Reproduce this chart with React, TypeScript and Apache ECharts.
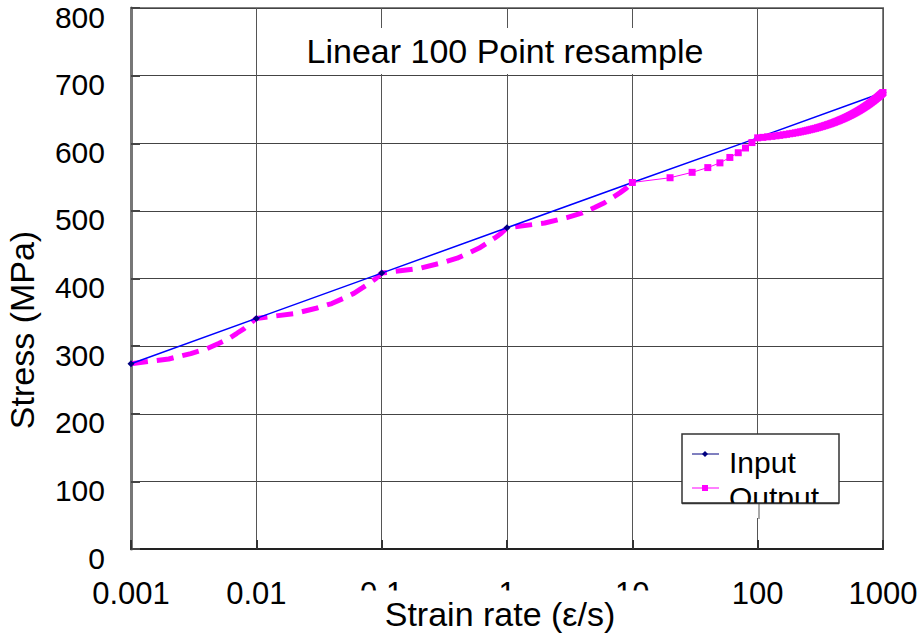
import React, { useEffect, useRef } from "react";
import * as echarts from "echarts";

const xTickLabels = ["0.001", "0.01", "0.1", "1", "10", "100", "1000"];
const yTickLabels = ["0", "100", "200", "300", "400", "500", "600", "700", "800"];

const inputX = [0.001, 0.01, 0.1, 1, 10, 100, 1000];
const inputY = [274, 341, 408, 475, 542, 608, 675];

// Output, lower decades (drawn dashed, thick)
const outLowX = [
  0.001, 0.002, 0.003, 0.004, 0.005, 0.006, 0.007, 0.008, 0.009,
  0.01, 0.02, 0.03, 0.04, 0.05, 0.06, 0.07, 0.08, 0.09,
  0.1, 0.2, 0.3, 0.4, 0.5, 0.6, 0.7, 0.8, 0.9,
  1, 2, 3, 4, 5, 6, 7, 8, 9, 10,
];
const outLowY = [
  274, 281, 289, 296, 304, 311, 319, 326, 334,
  341, 348, 356, 363, 371, 378, 386, 393, 400,
  408, 415, 423, 430, 438, 445, 453, 460, 467,
  475, 482, 490, 497, 505, 512, 520, 527, 534, 542,
];

// Output, resampled points 10..1000 (square markers)
const outHighX = [
  10, 20, 30, 40, 50, 60, 70, 80, 90, 100,
  110, 120, 130, 140, 150, 160, 170, 180, 190, 200,
  210, 220, 230, 240, 250, 260, 270, 280, 290, 300,
  310, 320, 330, 340, 350, 360, 370, 380, 390, 400,
  410, 420, 430, 440, 450, 460, 470, 480, 490, 500,
  510, 520, 530, 540, 550, 560, 570, 580, 590, 600,
  610, 620, 630, 640, 650, 660, 670, 680, 690, 700,
  710, 720, 730, 740, 750, 760, 770, 780, 790, 800,
  810, 820, 830, 840, 850, 860, 870, 880, 890, 900,
  910, 920, 930, 940, 950, 960, 970, 980, 990, 1000,
];
const outHighY = [
  542, 549, 557, 564, 571, 579, 586, 593, 601, 608,
  608.7, 609.5, 610.2, 611.0, 611.7, 612.5, 613.2, 614.0, 614.7, 615.4,
  616.2, 616.9, 617.7, 618.4, 619.2, 619.9, 620.7, 621.4, 622.1, 622.9,
  623.6, 624.4, 625.1, 625.9, 626.6, 627.4, 628.1, 628.8, 629.6, 630.3,
  631.1, 631.8, 632.6, 633.3, 634.1, 634.8, 635.5, 636.3, 637.0, 637.8,
  638.5, 639.3, 640.0, 640.8, 641.5, 642.2, 643.0, 643.7, 644.5, 645.2,
  646.0, 646.7, 647.5, 648.2, 648.9, 649.7, 650.4, 651.2, 651.9, 652.7,
  653.4, 654.2, 654.9, 655.6, 656.4, 657.1, 657.9, 658.6, 659.4, 660.1,
  660.9, 661.6, 662.3, 663.1, 663.8, 664.6, 665.3, 666.1, 666.8, 667.6,
  668.3, 669.0, 669.8, 670.5, 671.3, 672.0, 672.8, 673.5, 674.3, 675.0,
];

const titleText = "Linear 100 Point resample";
const xAxisTitle = "Strain rate (\u03b5/s)";
const yAxisTitle = "Stress (MPa)";
const legendNames = ["Input", "Output"];

const FONT = "'Liberation Sans', Arial, Helvetica, sans-serif";

export default function App() {
  const ref = useRef<HTMLDivElement | null>(null);

  useEffect(() => {
    if (!ref.current) return;
    const chart = echarts.init(ref.current, null, { renderer: "svg" });
    const zip = (xs: number[], ys: number[]) => xs.map((x, i) => [x, ys[i]]);

    const option: any = {
      animation: false,
      backgroundColor: "#ffffff",
      grid: {
        left: 131,
        right: 38,
        top: 8,
        bottom: 87,
        containLabel: false,
        outerBoundsMode: "none",
        show: true,
        borderColor: "#808080",
        borderWidth: 2,
        backgroundColor: "transparent",
      },
      xAxis: {
        type: "log",
        logBase: 10,
        min: 0.001,
        max: 1000,
        axisLine: { show: true, lineStyle: { color: "#222", width: 2 } },
        axisTick: { show: true, inside: true, length: 9, lineStyle: { color: "#333", width: 2 } },
        minorTick: { show: false },
        splitLine: { show: true, lineStyle: { color: "#555", width: 1 } },
        axisLabel: {
          margin: 29,
          fontSize: 31,
          fontFamily: FONT,
          color: "#000",
          formatter: (v: number) => {
            const i = Math.round(Math.log10(v)) + 3;
            return xTickLabels[i] ?? "";
          },
        },
      },
      yAxis: {
        type: "value",
        min: 0,
        max: 800,
        interval: 100,
        axisLine: { show: true, lineStyle: { color: "#777", width: 3 } },
        axisTick: { show: true, inside: true, length: 9, lineStyle: { color: "#444", width: 2 } },
        splitLine: { show: true, lineStyle: { color: "#444", width: 1 } },
        axisLabel: {
          margin: 26,
          fontSize: 30,
          fontFamily: FONT,
          color: "#000",
          verticalAlign: "top",
          lineHeight: 18,
          formatter: (v: number) => yTickLabels[Math.round(v / 100)] ?? "",
        },
      },
      series: [
        {
          name: "Output",
          type: "line",
          data: zip(outLowX, outLowY),
          showSymbol: false,
          symbol: "none",
          lineStyle: { color: "#ff00ff", width: 5, type: [17, 9] },
          z: 2,
        },
        {
          name: "Input",
          type: "line",
          data: zip(inputX, inputY),
          symbol: "diamond",
          symbolSize: 7,
          itemStyle: { color: "#000080" },
          lineStyle: { color: "#0000ff", width: 1.5 },
          z: 3,
        },
        {
          name: "Output",
          type: "line",
          data: zip(outHighX, outHighY),
          symbol: "rect",
          symbolSize: 7,
          itemStyle: { color: "#ff00ff" },
          lineStyle: { color: "#ff00ff", width: 1 },
          z: 4,
        },
      ],
      graphic: [
        // title with white box
        {
          type: "text",
          x: 505,
          y: 51,
          z: 100,
          style: {
            text: titleText,
            font: `34px ${FONT}`,
            fill: "#000",
            textAlign: "center",
            textVerticalAlign: "middle",
            backgroundColor: "#ffffff",
            padding: [6, 10],
          },
        },
        // x axis title with white box (covers part of tick labels, as in the original)
        {
          type: "text",
          x: 500,
          y: 614,
          z: 100,
          style: {
            text: xAxisTitle,
            font: `34px ${FONT}`,
            fill: "#000",
            textAlign: "center",
            textVerticalAlign: "middle",
            backgroundColor: "#ffffff",
            padding: [3, 34, 10, 34],
          },
        },
        // y axis title
        {
          type: "text",
          x: 22,
          y: 330,
          rotation: Math.PI / 2,
          z: 100,
          style: {
            text: yAxisTitle,
            font: `34px ${FONT}`,
            fill: "#000",
            textAlign: "center",
            textVerticalAlign: "middle",
          },
        },
        // legend box
        {
          type: "rect",
          z: 100,
          shape: { x: 682, y: 434, width: 157, height: 69 },
          style: { fill: "#ffffff", stroke: "#333", lineWidth: 1.5 },
        },
        {
          type: "line",
          z: 101,
          shape: { x1: 692, y1: 454, x2: 719, y2: 454 },
          style: { stroke: "#000080", lineWidth: 1 },
        },
        {
          type: "polygon",
          z: 102,
          shape: { points: [[705, 451], [708, 454], [705, 457], [702, 454]] },
          style: { fill: "#000080" },
        },
        {
          type: "text",
          x: 729,
          y: 462,
          z: 101,
          style: {
            text: legendNames[0],
            font: `30px ${FONT}`,
            fill: "#000",
            textAlign: "left",
            textVerticalAlign: "middle",
          },
        },
        {
          type: "line",
          z: 101,
          shape: { x1: 692, y1: 488, x2: 719, y2: 488 },
          style: { stroke: "#ff00ff", lineWidth: 1 },
        },
        {
          type: "rect",
          z: 102,
          shape: { x: 702, y: 485, width: 6, height: 6 },
          style: { fill: "#ff00ff" },
        },
        {
          type: "text",
          x: 729,
          y: 497,
          z: 101,
          style: {
            text: legendNames[1],
            font: `30px ${FONT}`,
            fill: "#000",
            textAlign: "left",
            textVerticalAlign: "middle",
          },
        },
        // mask clipping the legend text below the box
        {
          type: "rect",
          z: 103,
          shape: { x: 700, y: 504, width: 150, height: 14 },
          style: { fill: "#ffffff" },
        },
        {
          type: "line",
          z: 104,
          shape: { x1: 759, y1: 503, x2: 759, y2: 519 },
          style: { stroke: "#555", lineWidth: 1 },
        },
        {
          type: "line",
          z: 104,
          shape: { x1: 682, y1: 503.5, x2: 839, y2: 503.5 },
          style: { stroke: "#333", lineWidth: 1.5 },
        },
      ],
    };

    chart.setOption(option);
    return () => chart.dispose();
  }, []);

  return (
    <div
      ref={ref}
      style={{ position: "fixed", left: 0, top: 0, width: 921, height: 636, background: "#fff" }}
    />
  );
}
